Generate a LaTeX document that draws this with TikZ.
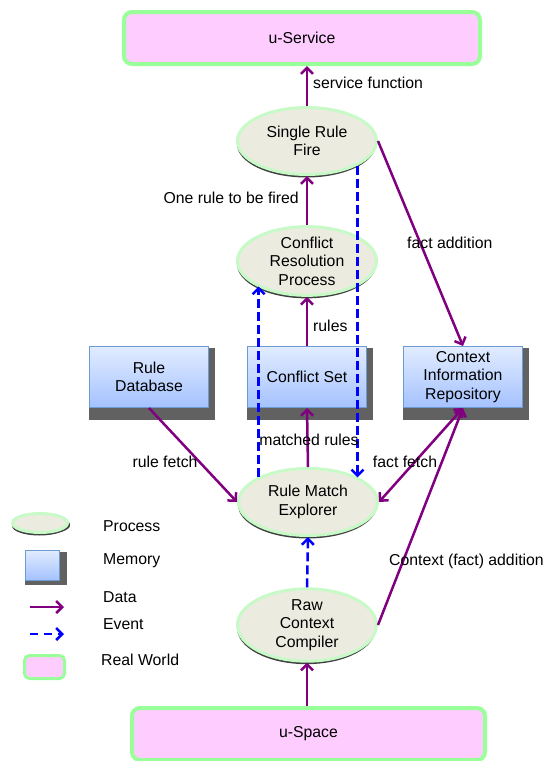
\documentclass[tikz,border=0pt]{standalone}
\usepackage{fontspec}
\setmainfont{Liberation Sans}
\usetikzlibrary{shapes.geometric,arrows.meta,shadows,backgrounds}

\definecolor{rwfill}{HTML}{FFCCFF}
\definecolor{rwline}{HTML}{99FF99}
\definecolor{procfill}{HTML}{ECEBE0}
\definecolor{procline}{HTML}{C8FAC8}
\definecolor{memtop}{HTML}{E2ECFF}
\definecolor{membot}{HTML}{A4C2FF}
\definecolor{memline}{HTML}{6B9BD2}
\definecolor{datacol}{HTML}{800080}
\definecolor{eventcol}{HTML}{0000FF}

\begin{document}
\begin{tikzpicture}[x=1pt,y=-1pt,
	every node/.style={font=\fontsize{15.8}{18.5}\selectfont},
	process/.style={ellipse, fill=procfill, draw=procline, line width=3pt, inner sep=0pt,
		minimum width=139pt, minimum height=67pt, align=center,
		drop shadow={shadow xshift=-0.5pt, shadow yshift=-3pt, fill=black!75, opacity=1}},
	memory/.style={rectangle, top color=memtop, bottom color=membot, draw=memline, line width=1pt,
		inner sep=2pt, minimum width=119pt, minimum height=61pt, align=center},
	realworld/.style={rectangle, rounded corners=8pt, fill=rwfill, draw=rwline, line width=4pt,
		minimum width=356pt, minimum height=52pt},
	memshade/.style={fill=black!62},
	data/.style={draw=datacol, line width=2.5pt, -{Straight Barb[length=6pt,width=12pt]}},
	event/.style={draw=eventcol, line width=2.5pt, dash pattern=on 9pt off 4pt,
		-{Straight Barb[length=6pt,width=12pt]}},
	lbl/.style={inner sep=0pt}]

	\useasboundingbox (0,0) rectangle (547,761);

	% real world
	\node[realworld] (svc) at (302,38) {u-Service};
	\node[realworld, minimum width=353pt] (space) at (308.5,734) {u-Space};

	% processes
	\node[process] (fire) at (307,141) {Single Rule\\Fire};
	\node[process] (crp) at (307,261) {Conflict\\Resolution\\Process};
	\node[process] (rme) at (308,502) {Rule Match\\Explorer};
	\node[process] (rcc) at (307,625) {Raw\\Context\\Compiler};

	% memories
	\node[memory] (ruledb) at (149,377) {Rule\\Database};
	\node[memory] (cset) at (307,377) {Conflict Set};
	\node[memory] (cir) at (463,377) {Context\\Information\\Repository};

	% legend
	\node[process, minimum width=55pt, minimum height=19pt, drop shadow={shadow yshift=-2pt, fill=black!75, opacity=1}] (lgproc) at (40,523) {};
	\node[memory, minimum width=34pt, minimum height=30pt] (lgmem) at (42.5,565) {};
	\node[realworld, rounded corners=5pt, line width=3pt, minimum width=40pt, minimum height=23pt] (lgrw) at (44.5,667) {};
	\coordinate (lgdataA) at (30,607);
	\coordinate (lgdataB) at (64,607);
	\coordinate (lgeventA) at (30,634);
	\coordinate (lgeventB) at (64,634);

	% memory shadows
	\begin{scope}[on background layer]
	\foreach \m/\dx/\dy in {ruledb/6/12, cset/6/12, cir/6/12, lgmem/7/4}
		\fill[memshade] ([yshift=-2pt]\m.north west) rectangle ([xshift=\dx pt,yshift=-\dy pt]\m.south east);
	\end{scope}

	% data flow
	\draw[data] (fire.north) -- (fire.north |- svc.south);
	\draw[data] (crp.north) -- (fire.south);
	\draw[data] (cset.north) -- (crp.south);
	\draw[data] (rme.north) -- (cset.south);
	\draw[data] (fire.east) -- (cir.north);
	\draw[data] (ruledb.south) -- (rme.west);
	\draw[data, {Straight Barb[length=6pt,width=12pt]}-{Straight Barb[length=6pt,width=12pt]}] (cir.south) -- (rme.east);
	\draw[data] (rcc.east) -- (cir.south);
	\draw[data] (space.north -| rcc.south) -- (rcc.south);

	% events
	\draw[event] (fire.-26) -- (fire.-26 |- rme.26);
	\draw[event] (rme.153) -- (rme.153 |- crp.207);
	\draw[event] (rcc.north) -- (rme.south);

	% labels
	\node[lbl, anchor=west] (lsf) at (313,83) {service function};
	\node[lbl, anchor=east] (lor) at (299,198) {One rule to be fired};
	\node[lbl, anchor=west] (lfa) at (407,243) {fact addition};
	\node[lbl, anchor=west] (lru) at (313,326) {rules};
	\node[lbl] (lmr) at (309,440) {matched rules};
	\node[lbl] (lrf) at (165,462) {rule fetch};
	\node[lbl] (lff) at (405,462) {fact fetch};
	\node[lbl, anchor=west] (lca) at (389,561) {Context (fact) addition};

	% legend texts
	\draw[data] (lgdataA) -- (lgdataB);
	\draw[event, dash pattern=on 8pt off 6pt] (lgeventA) -- (lgeventB);
	\node[lbl, anchor=west] (tproc) at (103,526) {Process};
	\node[lbl, anchor=west] (tmem) at (103,561) {Memory};
	\node[lbl, anchor=west] (tdata) at (103,597) {Data};
	\node[lbl, anchor=west] (tevent) at (103,624) {Event};
	\node[lbl, anchor=west] (trw) at (101,660) {Real World};

\end{tikzpicture}
\end{document}
